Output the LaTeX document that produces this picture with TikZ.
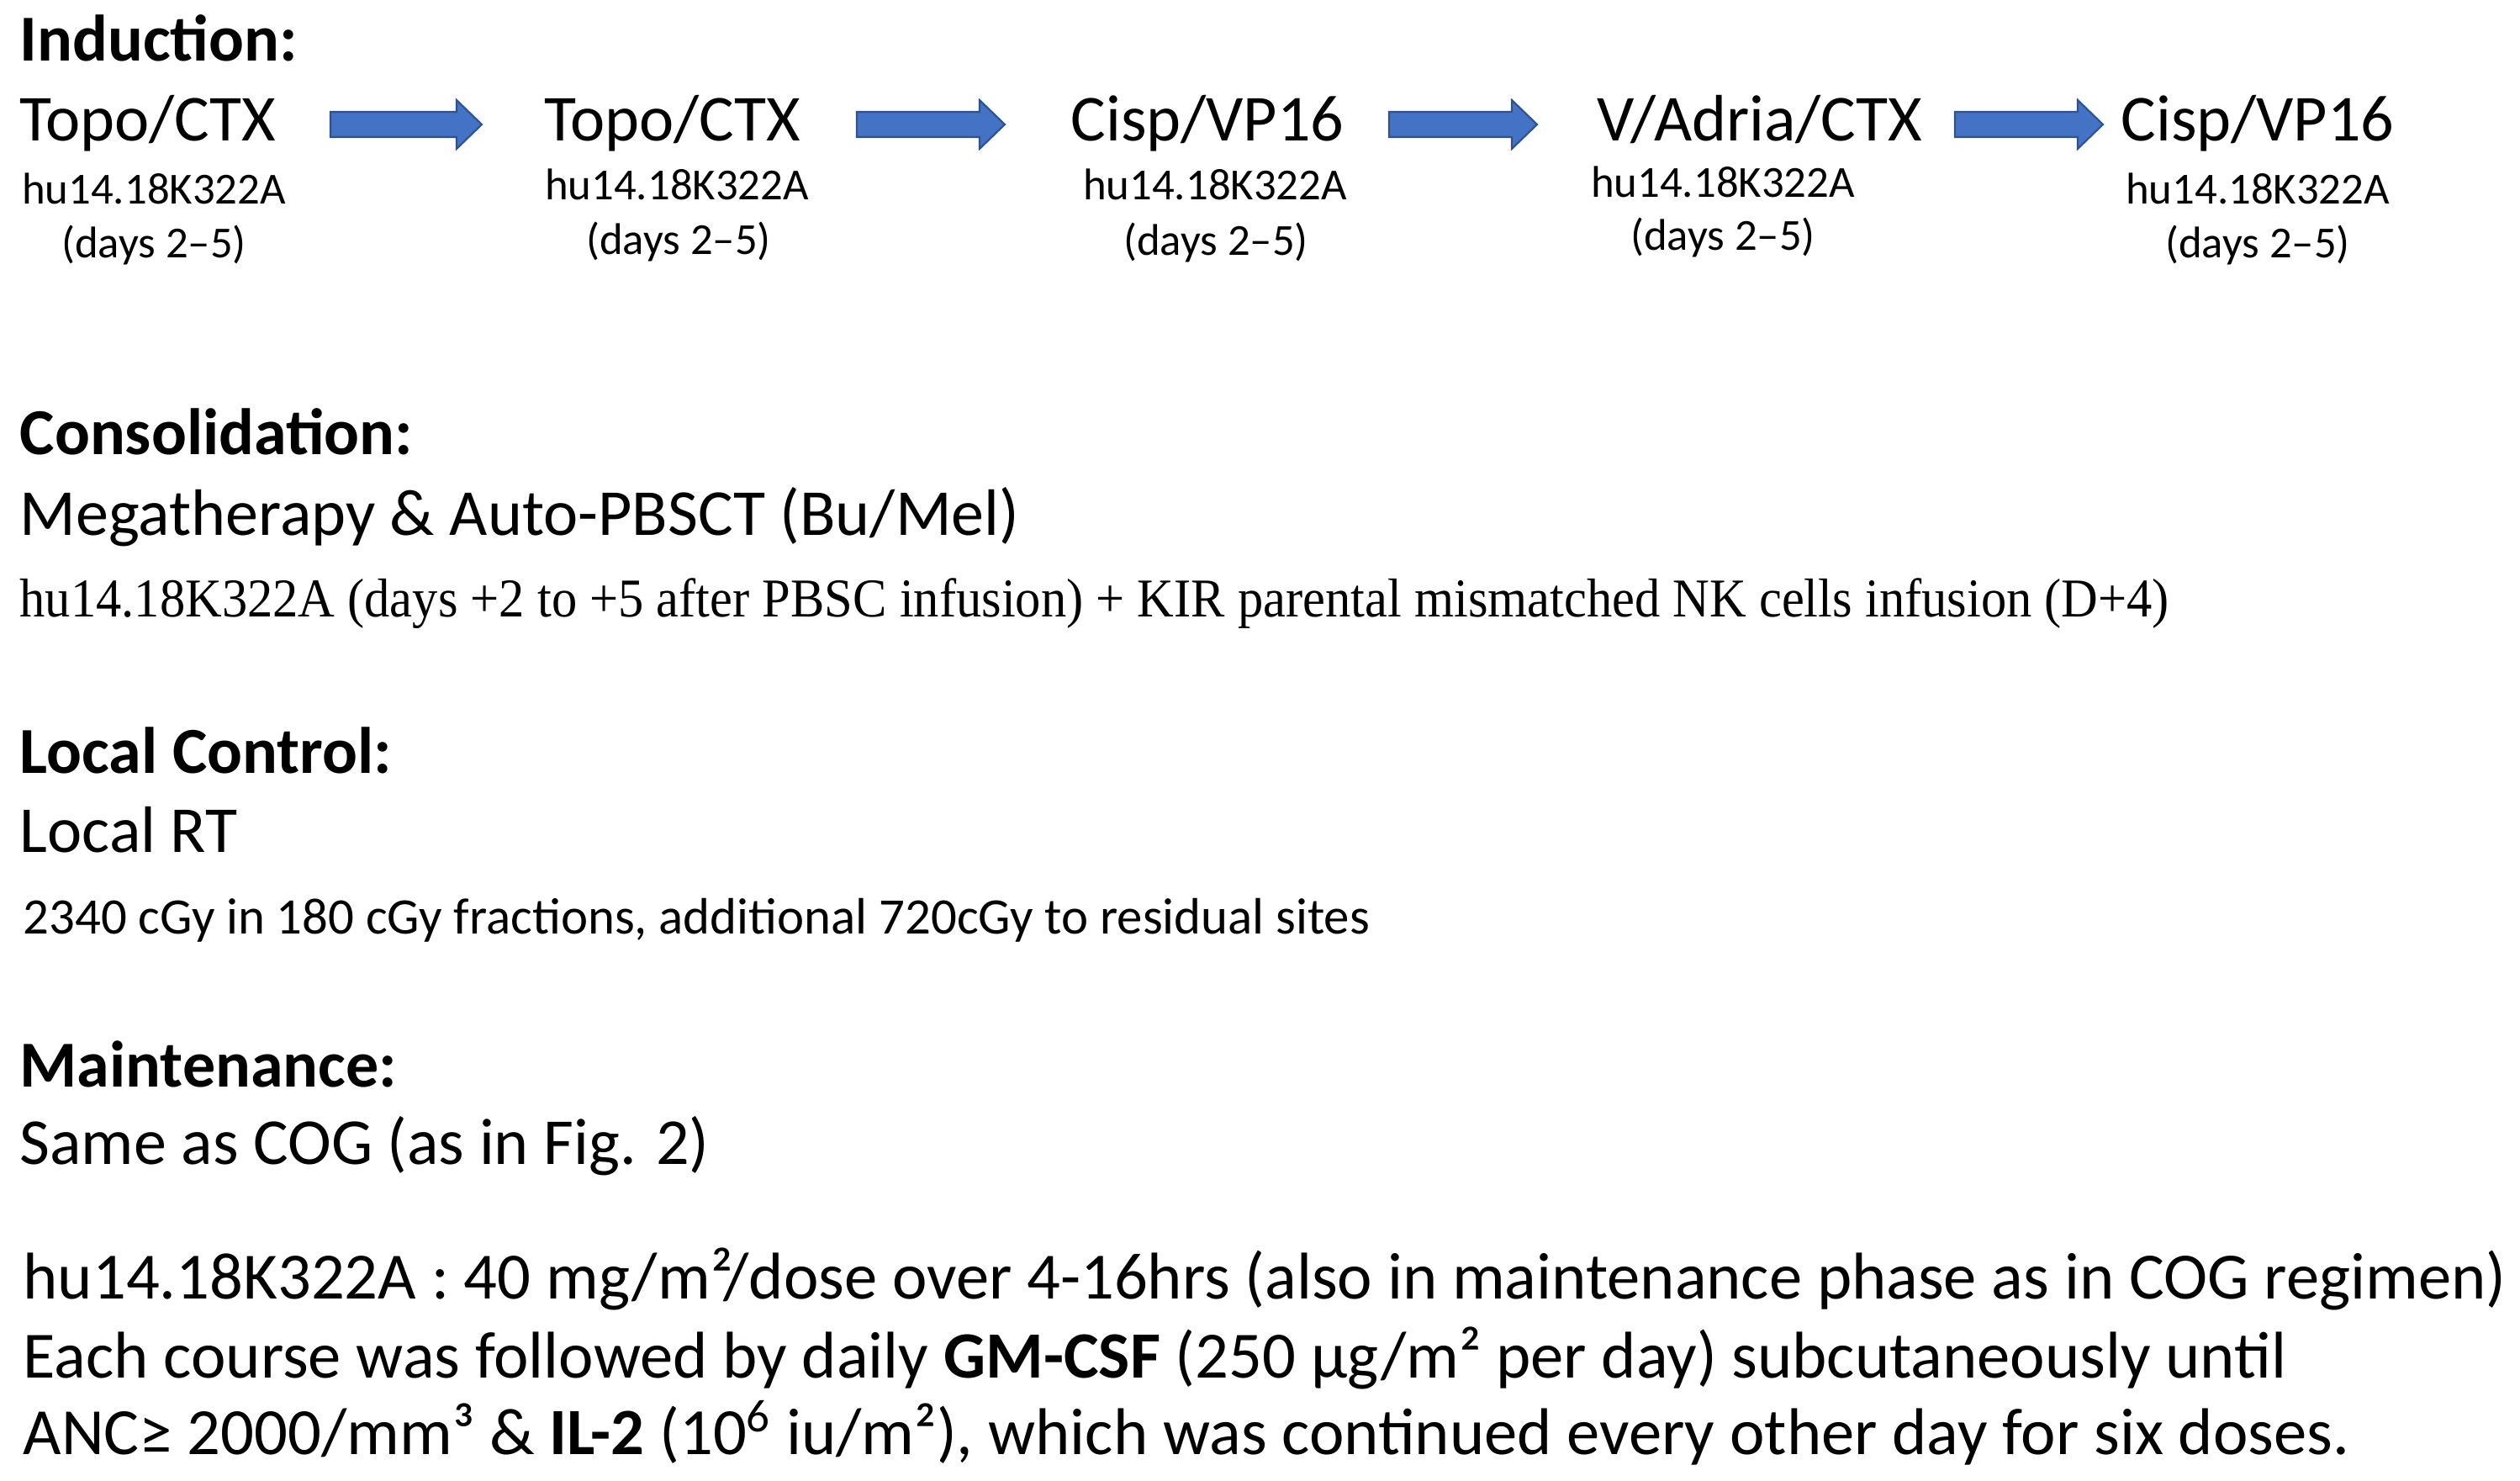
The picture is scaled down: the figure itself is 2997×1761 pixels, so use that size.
\documentclass[tikz,border=0pt]{standalone}
\usepackage{fontspec}
\setmainfont{Carlito}
\newfontfamily\tnrfont[FakeStretch=0.93]{Liberation Serif}
\usetikzlibrary{calc}
\definecolor{arrowblue}{HTML}{4472C4}
\definecolor{arrowedge}{HTML}{2F528F}
\newcommand\barw[2]{%
  \draw[barrow] ($(#1)+(0,-15)$) -- ($(#2)+(-30,-15)$) -- ($(#2)+(-30,-29)$) -- (#2)
    -- ($(#2)+(-30,29)$) -- ($(#2)+(-30,15)$) -- ($(#1)+(0,15)$) -- cycle;}
\begin{document}
\begin{tikzpicture}[x=0.01cm,y=-0.01cm,
  txt/.style={inner sep=0pt, anchor=base west, font=\fontsize{22.2}{26}\selectfont},
  head/.style={txt, font=\fontsize{22.2}{26}\selectfont\bfseries},
  stage/.style={inner sep=0pt, anchor=base, font=\fontsize{22.2}{26}\selectfont},
  sub/.style={inner sep=0pt, anchor=base, font=\fontsize{15}{18}\selectfont},
  small/.style={txt, font=\fontsize{17.3}{20}\selectfont},
  big/.style={txt, font=\fontsize{22.35}{26}\selectfont},
  serifline/.style={txt, font=\tnrfont\fontsize{18.5}{21}\selectfont},
  barrow/.style={fill=arrowblue, draw=arrowedge, line width=0.6pt, line join=miter}]
\path[use as bounding box] (0,0) rectangle (2997,1761);

% Induction
\node[head] (ind) at (23,73) {Induction:};
\node[stage] (s1) at (176,168) {Topo/CTX};
\node[stage] (s2) at (800,168) {Topo/CTX};
\node[stage] (s3) at (1436,168) {Cisp/VP16};
\node[stage] (s4) at (2093,168) {V/Adria/CTX};
\node[stage] (s5) at (2685,168) {Cisp/VP16};

\node[sub] (h1) at (183,243) {hu14.18K322A};
\node[sub] (h2) at (805,238) {hu14.18K322A};
\node[sub] (h3) at (1445,238) {hu14.18K322A};
\node[sub] (h4) at (2049,235) {hu14.18K322A};
\node[sub] (h5) at (2685,243) {hu14.18K322A};

\node[sub] (d1) at (183,307) {(days 2–5)};
\node[sub] (d2) at (807,303) {(days 2–5)};
\node[sub] (d3) at (1446,304) {(days 2–5)};
\node[sub] (d4) at (2049,298) {(days 2–5)};
\node[sub] (d5) at (2685,307) {(days 2–5)};

\coordinate (a1s) at (393,148); \coordinate (a1e) at (573,148);
\coordinate (a2s) at (1019,148); \coordinate (a2e) at (1195,148);
\coordinate (a3s) at (1652,148); \coordinate (a3e) at (1828,148);
\coordinate (a4s) at (2325,148); \coordinate (a4e) at (2501,148);
\barw{a1s}{a1e}
\barw{a2s}{a2e}
\barw{a3s}{a3e}
\barw{a4s}{a4e}

% Consolidation
\node[head] (cons) at (23,541) {Consolidation:};
\node[txt] (mega) at (23,636) {Megatherapy \& Auto-PBSCT (Bu/Mel)};
\node[serifline] (nk) at (23,733) {hu14.18K322A (days +2 to +5 after PBSC infusion) + KIR parental mismatched NK cells infusion (D+4)};

% Local control
\node[head] (loc) at (23,919) {Local Control:};
\node[txt] (rt) at (23,1013) {Local RT};
\node[small] (dose) at (27,1110) {2340 cGy in 180 cGy fractions, additional 720cGy to residual sites};

% Maintenance
\node[head] (mnt) at (23,1292) {Maintenance:};
\node[txt] (cog) at (23,1384) {Same as COG (as in Fig. 2)};

\node[big] (n1) at (27,1544) {hu14.18K322A : 40 mg/m²/dose over 4-16hrs (also in maintenance phase as in COG regimen)};
\node[big] (n2) at (27,1638) {Each course was followed by daily \textbf{GM-CSF} (250 µg/m² per day) subcutaneously until};
\node[big] (n3) at (27,1729) {ANC≥ 2000/mm³ \& \textbf{IL-2} (10\textsuperscript{6} iu/m²), which was continued every other day for six doses.};
\end{tikzpicture}
\end{document}
